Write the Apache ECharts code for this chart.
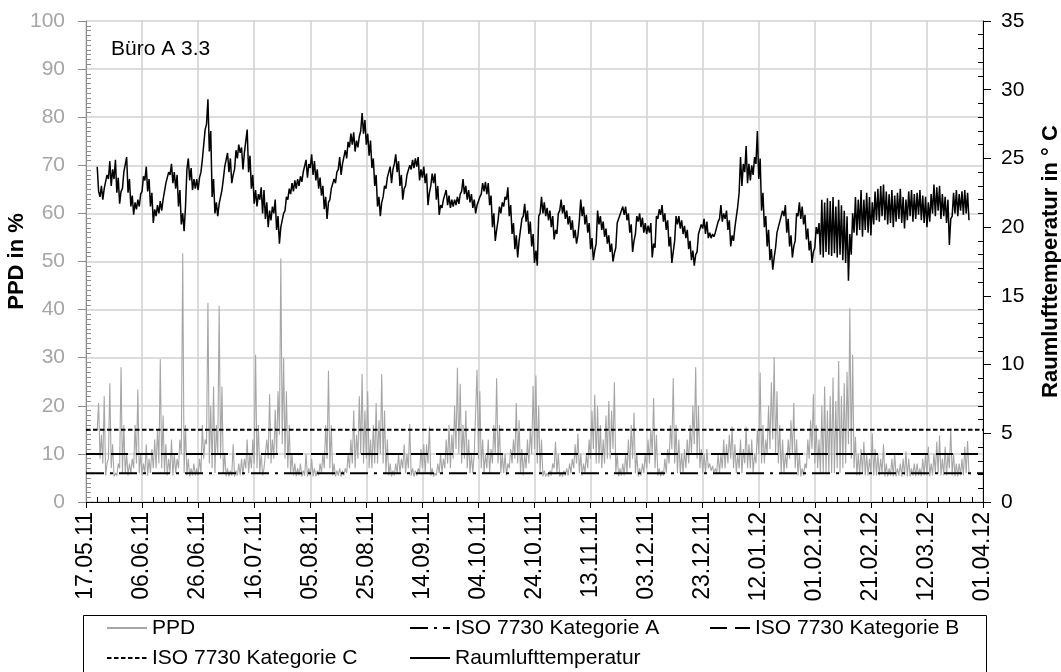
<!DOCTYPE html>
<html>
<head>
<meta charset="utf-8">
<script src="https://cdn.jsdelivr.net/npm/echarts@6/dist/echarts.min.js"></script>
<style>
html,body{margin:0;padding:0;background:#fff;}
#chart{width:1061px;height:672px;}
</style>
</head>
<body>
<div id="chart"></div>
<script>
// x-axis tick labels (every 20 days from 17.05.11)
const tickLabels = ['17.05.11','06.06.11','26.06.11','16.07.11','05.08.11','25.08.11','14.09.11','04.10.11','24.10.11','13.11.11','03.12.11','23.12.11','12.01.12','01.02.12','21.02.12','12.03.12','01.04.12'];
const axisStartDate = '2011-05-17';
const stepDays = 0.5; // half-day readings (night, day)

// Raumlufttemperatur in °C, two readings per day
const tempMay = [24.4,22.6, 22.2,23.0, 22.0,22.8, 22.8,23.8, 23.5,24.8, 23.0,24.2, 23.5,24.9, 22.5,23.6, 21.7,22.6, 22.8,24.0, 24.0,25.1];
const tempJun = [22.5,23.5, 21.5,22.3, 20.9,21.8, 21.3,22.0, 21.5,22.4, 22.6,23.7, 23.4,24.4, 22.6,23.5, 21.5,22.5, 20.3,21.3, 20.8,21.6, 21.0,21.9, 21.2,22.0, 22.0,23.2, 23.2,24.0, 23.8,24.6, 23.2,24.0, 22.8,23.8, 21.5,22.7, 20.2,21.0, 19.7,21.5, 24.2,25.0, 23.4,24.3, 22.7,23.5, 22.8,23.5, 22.7,23.6, 24.0,24.9, 26.0,27.1, 27.5,29.3, 25.5,27.0];
const tempJul = [22.2,23.5, 21.0,21.8, 20.8,21.7, 21.8,22.7, 23.5,24.4, 24.5,25.4, 24.0,25.0, 23.2,23.8, 24.2,25.6, 25.0,26.0, 25.4,25.8, 24.2,25.4, 25.5,27.1, 24.0,25.2, 22.8,23.8, 21.7,22.7, 21.5,22.4, 22.0,22.9, 21.0,22.7, 20.6,21.8, 20.0,21.2, 20.5,21.5, 21.0,22.0, 19.8,20.8, 18.8,20.0, 20.0,21.0, 21.2,22.2, 22.0,22.8, 22.4,23.2, 22.6,23.4, 22.8,23.5];
const tempAug = [23.0,23.7, 23.3,24.0, 24.0,24.9, 23.6,24.6, 24.3,25.3, 23.8,24.8, 23.4,24.2, 22.8,23.6, 22.3,23.0, 21.3,22.2, 20.6,21.8, 22.0,22.8, 22.8,23.5, 23.2,24.0, 24.2,25.1, 23.8,24.6, 24.6,25.6, 25.0,26.2, 25.8,26.8, 26.0,26.9, 25.5,26.3, 25.8,26.6, 27.0,28.3, 26.8,27.8, 26.0,26.8, 25.2,26.3, 24.3,25.0, 23.0,23.8, 21.5,22.2, 20.8,21.8, 22.2,23.0];
const tempSep = [22.8,23.6, 23.6,24.4, 23.2,24.2, 24.6,25.3, 24.0,24.8, 23.0,23.8, 22.0,22.8, 23.0,23.8, 23.8,24.5, 24.2,24.9, 24.3,25.0, 24.4,25.1, 23.4,24.2, 23.6,24.4, 23.2,23.9, 21.6,22.5, 23.0,23.9, 23.2,23.9, 22.0,23.0, 20.9,21.6, 21.4,22.0, 22.0,22.7, 21.6,22.3, 21.4,22.0, 21.5,22.0, 21.6,22.2, 21.7,22.4, 22.6,23.5, 22.4,23.0, 22.0,22.7];
const tempOct = [21.8,22.4, 21.4,22.0, 21.0,21.6, 21.5,22.2, 22.4,23.2, 22.6,23.3, 22.4,23.2, 21.6,22.3, 20.0,21.0, 19.0,19.8, 20.5,21.5, 21.0,21.8, 21.5,22.2, 22.0,22.9, 20.8,21.6, 19.5,20.3, 18.4,19.4, 17.8,19.0, 19.8,20.6, 20.8,21.7, 20.4,21.2, 19.5,20.4, 18.6,19.5, 17.4,18.3, 17.2,20.8, 21.0,22.2, 21.0,21.8, 20.8,21.4, 20.5,21.2, 20.0,20.8, 19.1,19.8];
const tempNov = [19.5,21.0, 21.2,22.0, 21.0,21.6, 20.6,21.2, 20.2,20.8, 19.8,20.5, 19.2,19.8, 18.8,19.4, 20.5,22.0, 20.8,21.5, 20.2,20.9, 19.6,20.3, 18.4,19.2, 17.6,18.3, 18.8,21.2, 20.2,20.8, 19.8,20.4, 19.3,19.9, 18.8,19.4, 18.2,18.8, 17.5,18.1, 18.5,20.3, 20.2,20.9, 20.8,21.5, 20.9,21.5, 20.5,21.0, 19.6,20.2, 18.2,19.0, 19.5,20.8, 20.4,21.0];
const tempDec = [20.0,20.7, 19.6,20.3, 19.5,20.1, 19.6,20.3, 17.8,18.8, 18.5,20.8, 20.6,21.3, 20.9,21.6, 20.4,21.0, 19.8,20.5, 18.6,19.3, 17.4,18.2, 19.0,20.8, 20.2,20.8, 19.9,20.5, 19.5,20.1, 19.2,19.8, 18.4,19.0, 17.6,18.3, 17.2,18.0, 18.2,19.5, 19.5,20.2, 19.9,20.6, 19.5,20.4, 19.2,19.6, 19.2,19.5, 19.3,19.6, 19.6,20.4, 20.6,21.6, 20.4,21.0, 20.6,21.2];
const tempJan = [19.8,20.5, 18.6,19.4, 19.0,20.0, 20.0,21.5, 22.5,25.1, 23.0,24.6, 24.0,25.9, 23.2,24.6, 23.4,24.5, 23.8,25.1, 24.6,27.0, 23.5,25.0, 21.2,22.5, 20.0,20.8, 18.6,19.8, 17.6,18.4, 16.9,17.8, 18.5,19.6, 19.6,20.4, 20.4,21.2, 20.8,21.6, 19.6,20.6, 18.6,19.4, 17.8,18.6, 19.0,21.0, 20.8,21.8, 20.6,21.5, 20.2,20.9, 19.1,19.9, 18.3,19.0, 17.4,18.2];
const tempFeb = [18.5,20.0, 19.5,20.3, 18.0,22.0, 17.8,21.8, 18.2,22.1, 18.0,21.9, 17.9,22.2, 18.1,21.5, 17.8,22.0, 18.0,21.6, 17.6,21.2, 17.4,20.8, 16.1,19.5, 18.0,21.0, 19.6,22.2, 19.4,22.0, 19.8,22.7, 19.3,22.0, 19.8,22.5, 19.6,22.2, 19.4,21.8, 20.2,22.6, 20.5,22.8, 20.4,23.0, 20.8,23.1, 20.5,22.6, 20.2,22.4, 20.3,22.7, 20.0,22.3];
const tempMar = [20.4,22.5, 20.6,22.8, 20.3,22.2, 19.9,22.0, 20.5,22.6, 20.8,22.7, 20.4,22.4, 20.6,22.5, 20.9,22.7, 20.5,22.3, 20.3,22.2, 20.0,21.8, 20.4,22.4, 21.0,23.1, 20.8,22.9, 21.2,23.0, 20.6,22.4, 20.8,22.2, 20.3,22.0, 18.7,20.6, 20.8,22.5, 21.0,22.7, 20.8,22.4, 21.2,22.6, 20.9,22.7, 21.0,22.5, 20.5];

// PPD in %, two readings per day
const ppdMay = [15,20.6, 9,14, 8,22, 5.5,8, 9,24.7, 7,12, 5.3,6, 5.5,8, 7,28, 6,16, 6,10];
const ppdJun = [5.5,8, 6,9, 7,16, 8,23.4, 6,10, 5.5,8, 6,12, 5.5,9, 6,11, 7,13, 7,15, 8,29.7, 7,18, 6,12, 5.5,9, 6,13, 5.5,10, 6,9, 7,13, 10,51.7, 6,16, 5.5,9, 5.3,7, 5.5,8, 5.5,7, 5.5,9, 6,16, 9,13, 12,41.4, 8,20];
const ppdJul = [7,24, 6,16, 10,40.8, 9,24, 6,10, 5.3,7, 5.3,6.5, 5.5,12, 5.3,6.5, 5.5,8, 5.5,9, 5.5,9, 7,13, 6,10, 7,13, 8,30.6, 7,16, 6,10, 5.5,7, 7,13, 9,22.4, 8,13, 9,19.2, 10,23, 14,50.6, 12,30, 9,23, 7,16, 6,10, 5.5,8, 5.3,7];
const ppdAug = [5.5,8, 5.3,6.5, 5.5,10, 5.3,7, 5.5,9, 5.3,7, 5.3,6.5, 5.5,8, 6,10, 7,16, 9,27.3, 7,16, 5.5,8, 5.3,6.5, 5.5,7, 5.3,6.5, 5.5,7, 6,10, 7,13, 8,19, 7,14, 9,22, 10,26.6, 8,19, 9,23, 7,13, 7,16, 8,20.6, 8,17, 10,26.6, 8,19];
const ppdSep = [6,13, 5.5,8, 5.3,6.5, 5.5,8, 6,10, 6,9, 7,12, 6,10, 7,16.2, 5.5,7, 5.3,6.5, 5.5,7, 6,11, 7,12, 6,12, 8,15.7, 5.5,7, 5.3,6, 5.5,8, 6,10, 6,9, 7,13, 8,16, 7,14, 9,20, 11,27.9, 10,24.6, 8,16, 9,19, 7,13];
const ppdOct = [6,10, 6,10, 10,27.5, 9,23, 7,13, 6,10, 7,13, 6,11, 8,16, 10,25.7, 8,16, 6,10, 6,10, 5.5,8, 7,11, 8,13, 9,20.6, 8,17, 6,11, 5.5,10, 7,13, 8,15, 10,24.1, 11,26.3, 8,20, 6,13, 5.3,6.5, 5.3,6, 5.3,6.5, 5.5,8, 7,12.5];
const ppdNov = [6,10, 5.3,6, 5.3,6.5, 5.5,7, 5.5,8, 6,9, 7,12, 8,14.2, 6,10, 5.5,8, 6,10, 7,13, 9,19, 11,22.3, 8,20, 8,16, 7,13, 8,18, 9,21, 9,19, 11,24.9, 6,10, 5.3,7, 5.5,8, 5.5,10, 6,13, 7,16, 9,18.6, 6,10, 5.3,7];
const ppdDec = [5.5,8, 6,10, 7,13, 8,15, 10,21.6, 7,14, 5.5,7, 5.3,6.5, 5.5,9, 6,11, 8,16, 11,25.7, 8,16, 6,13, 6,10, 6,11, 7,13, 8,16, 10,20, 12,28, 9,20, 7,11, 6,10, 6,11, 7,8, 6.5,7.5, 6,7, 6,10, 6,10, 7,13, 7,12];
const ppdJan = [8,14, 9,15.7, 7,12, 6,10, 7,13, 6,11, 8,15.7, 7,12, 7,13, 6,10, 8,15, 10,26.9, 8,16, 8,13, 10,20, 11,24.9, 13,30.1, 10,23, 8,16, 6,13, 6,10, 7,13, 9,17, 10,20.6, 7,13, 5.5,10, 5.3,7, 5.5,8, 7,13, 9,17, 11,22.4];
const ppdFeb = [8,16, 7,13, 6,20, 6,24, 6,19, 6,22, 6,25.9, 6,21, 7,29.3, 6,22, 7,24.7, 8,27, 12,40.3, 9,30.6, 7,13.5, 5.5,10, 5.5,11, 6,12.5, 5.5,10, 5.5,9, 6,14.3, 5.5,11, 5.5,10, 5.5,9, 6,12, 5.3,8, 5.3,7, 5.5,9, 5.3,10];
const ppdMar = [5.3,7, 5.5,8, 5.3,9, 5.5,10.5, 5.3,9, 5.3,7, 5.5,8, 5.3,8, 5.5,7, 5.3,9, 5.5,10, 5.5,11.5, 5.3,8, 5.5,10, 6,12.5, 6,13.8, 5.5,9, 5.5,11.5, 5.5,10, 7,15.4, 5.5,10, 5.3,8, 5.3,8, 5.5,9, 5.5,11.5, 6,12.7, 6];

// first reading date of each monthly block
const blockStarts = ['2011-05-21','2011-06-01','2011-07-01','2011-08-01','2011-09-01','2011-10-01','2011-11-01','2011-12-01','2012-01-01','2012-02-01','2012-03-01'];
const tempBlocks = [tempMay,tempJun,tempJul,tempAug,tempSep,tempOct,tempNov,tempDec,tempJan,tempFeb,tempMar];
const ppdBlocks = [ppdMay,ppdJun,ppdJul,ppdAug,ppdSep,ppdOct,ppdNov,ppdDec,ppdJan,ppdFeb,ppdMar];

// ISO 7730 comfort categories (PPD limits in %)
const isoNames = ['ISO 7730 Kategorie A','ISO 7730 Kategorie B','ISO 7730 Kategorie C'];
const isoLimits = [6, 10, 15];

function dayIndex(s){
  const p = s.split('-').map(Number);
  const q = axisStartDate.split('-').map(Number);
  return (Date.UTC(p[0],p[1]-1,p[2]) - Date.UTC(q[0],q[1]-1,q[2]))/86400000;
}
function build(blocks){
  const out = [];
  blocks.forEach((arr, b) => {
    const d0 = dayIndex(blockStarts[b]);
    arr.forEach((v, i) => out.push([d0 + i*stepDays, v]));
  });
  return out;
}
const tempData = build(tempBlocks);
const ppdData = build(ppdBlocks);
const xMax = (tickLabels.length - 1) * 20;

const FONT = 'Liberation Sans, Arial, sans-serif';
const chart = echarts.init(document.getElementById('chart'), null, {renderer:'canvas'});
const isoDash = [[18,6,3,6],[17,8],[4.5,2.5]];

const series = [
  {name:'PPD', type:'line', yAxisIndex:0, data:ppdData, symbol:'none', z:1,
   lineStyle:{color:'#a6a6a6', width:1.1}, itemStyle:{color:'#a6a6a6'}},
];
isoNames.forEach((n, k) => {
  series.push({name:n, type:'line', yAxisIndex:0, symbol:'none', z:2,
    data:[[0, isoLimits[k]], [xMax, isoLimits[k]]],
    lineStyle:{color:'#000', width:2, type:isoDash[k]}, itemStyle:{color:'#000'}});
});
series.push({name:'Raumlufttemperatur', type:'line', yAxisIndex:1, data:tempData, symbol:'none', z:3,
  lineStyle:{color:'#000', width:1.5}, itemStyle:{color:'#000'}});

function legendAt(name, left, top){
  return {data:[name], left:left, top:top, orient:'horizontal', padding:0,
    itemWidth:40, itemHeight:14, itemStyle:{opacity:0},
    textStyle:{fontSize:21, color:'#000', fontFamily:FONT, lineHeight:24}, selectedMode:false};
}

chart.setOption({
  animation:false,
  textStyle:{fontFamily:FONT},
  title:{text:'Büro A 3.3', left:106, top:34, textStyle:{fontSize:21, fontWeight:'normal', color:'#000', fontFamily:FONT}},
  grid:{left:86, right:78, top:21, bottom:170, containLabel:false, outerBoundsMode:'none'},
  legend:[
    legendAt('PPD', 106, 616),
    legendAt('ISO 7730 Kategorie A', 409, 616),
    legendAt('ISO 7730 Kategorie B', 709, 616),
    legendAt('ISO 7730 Kategorie C', 106, 646),
    legendAt('Raumlufttemperatur', 409, 646)
  ],
  graphic:[{type:'rect', left:81, top:613, shape:{width:903, height:70}, style:{fill:'none', stroke:'#000', lineWidth:1}, silent:true}],
  xAxis:{type:'value', min:0, max:xMax, interval:20,
    axisLine:{show:true, onZero:false, lineStyle:{color:'#000', width:1}},
    axisTick:{show:true, length:6, lineStyle:{color:'#000'}},
    minorTick:{show:true, splitNumber:5, length:-5, lineStyle:{color:'#000'}},
    splitLine:{show:true, lineStyle:{color:'#d0d0d0', width:1.5}},
    axisLabel:{rotate:90, margin:10, fontSize:23, color:'#000', fontFamily:FONT, showMinLabel:true, showMaxLabel:true,
      formatter:v => tickLabels[Math.round(v/20)]}
  },
  yAxis:[
    {type:'value', position:'left', min:0, max:100, interval:10,
     axisLine:{show:true, lineStyle:{color:'#8c8c8c'}},
     axisTick:{show:true, length:8, lineStyle:{color:'#8c8c8c'}},
     minorTick:{show:true, splitNumber:10, length:-5, lineStyle:{color:'#8c8c8c'}},
     splitLine:{show:true, lineStyle:{color:'#d0d0d0', width:1.5}},
     axisLabel:{color:'#a6a6a6', fontSize:21, margin:21, fontFamily:FONT},
     name:'PPD in %', nameLocation:'middle', nameGap:58, nameRotate:90, nameMoveOverlap:false,
     nameTextStyle:{fontWeight:'bold', fontSize:22, color:'#000', fontFamily:FONT}},
    {type:'value', position:'right', min:0, max:35, interval:5,
     axisLine:{show:true, lineStyle:{color:'#000'}},
     axisTick:{show:true, length:8, lineStyle:{color:'#000'}},
     minorTick:{show:true, splitNumber:5, length:-5, lineStyle:{color:'#000'}},
     splitLine:{show:false},
     axisLabel:{color:'#000', fontSize:21, margin:18, fontFamily:FONT},
     name:'Raumlufttemperatur in ° C', nameLocation:'middle', nameGap:57, nameRotate:90, nameMoveOverlap:false,
     nameTextStyle:{fontWeight:'bold', fontSize:22, color:'#000', fontFamily:FONT}}
  ],
  series:series
});
</script>
</body>
</html>
